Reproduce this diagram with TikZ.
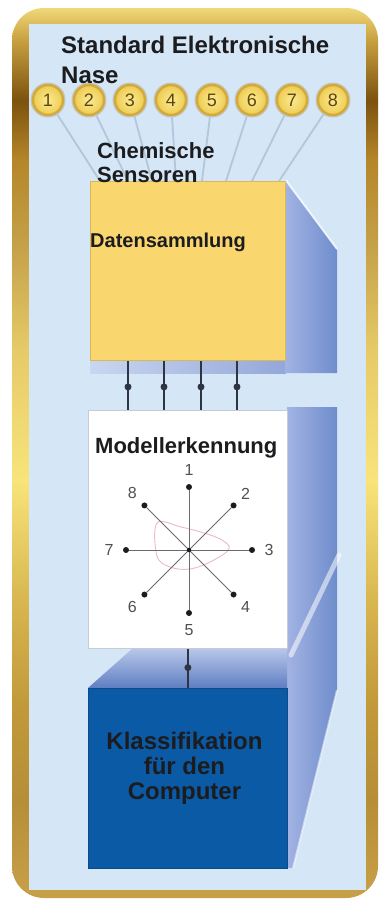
\documentclass[tikz,border=0pt]{standalone}
\usepackage{fontspec}
\setmainfont{Liberation Sans}
\usetikzlibrary{calc}

\definecolor{panelblue}{HTML}{D5E7F6}
\definecolor{ink}{HTML}{1C1C1E}
% gold frame stops, bottom to top
\definecolor{gA}{HTML}{C8A048}
\definecolor{gB}{HTML}{B68E38}
\definecolor{gC}{HTML}{C29A3A}
\definecolor{gD}{HTML}{D8B650}
\definecolor{gE}{HTML}{F8E47A}
\definecolor{gF}{HTML}{E6CA68}
\definecolor{gG}{HTML}{C6A24A}
\definecolor{gH}{HTML}{B48629}
\definecolor{gI}{HTML}{7C520E}
\definecolor{gJ}{HTML}{C8A040}
\definecolor{gK}{HTML}{F0D878}
\pgfdeclareverticalshading{goldframe}{100bp}{%
  color(0bp)=(gA); color(25bp)=(gA); color(30.5bp)=(gB); color(36bp)=(gC);
  color(41.7bp)=(gD); color(48.5bp)=(gE); color(55.8bp)=(gF); color(61.4bp)=(gG);
  color(66.5bp)=(gH); color(69.8bp)=(gI); color(73.2bp)=(gJ); color(75bp)=(gK);
  color(100bp)=(gK)}

\definecolor{sideL}{HTML}{A2B3E3}
\definecolor{sideR}{HTML}{6F8DCC}
\definecolor{bandL}{HTML}{C9D6EF}
\definecolor{bandR}{HTML}{93A8DA}
\definecolor{faceT}{HTML}{BAC8EA}
\definecolor{faceB}{HTML}{5E7EC2}
\definecolor{datafill}{HTML}{FAD66F}
\definecolor{dataedge}{HTML}{D9B85A}
\definecolor{klassfill}{HTML}{0A5AA6}
\definecolor{klassedge}{HTML}{0A4B8C}
\definecolor{modeledge}{HTML}{C5CCD6}
\definecolor{sensIn}{HTML}{FBEB92}
\definecolor{sensOut}{HTML}{EDCB52}
\definecolor{sensRing}{HTML}{D2AA3C}
\definecolor{sensNum}{HTML}{5E4510}
\definecolor{halo}{HTML}{C4C6BC}
\definecolor{fanline}{HTML}{B3C6DA}
\definecolor{connline}{HTML}{2E3442}
\definecolor{axisline}{HTML}{6A6A70}
\definecolor{radar}{HTML}{E9BCC4}
\definecolor{starlab}{HTML}{505054}

\begin{document}
\begin{tikzpicture}[x=1pt,y=-1pt,
  txt/.style={text=ink, inner sep=0pt, anchor=base west},
  big/.style={font=\fontsize{24pt}{28pt}\selectfont\bfseries},
  mid/.style={font=\fontsize{22pt}{26pt}\selectfont\bfseries},
  small/.style={font=\fontsize{20pt}{24pt}\selectfont\bfseries},
  sensor/.style={circle, minimum size=30pt, inner sep=0pt, shade,
    inner color=sensIn, outer color=sensOut, draw=sensRing, line width=2.4pt,
    text=sensNum, font=\fontsize{18pt}{18pt}\selectfont},
  blockbox/.style={anchor=north west, inner sep=0pt, line width=0.8pt},
  fan/.style={draw=fanline, line width=1.8pt},
  conn/.style={draw=connline, line width=1.5pt},
  dotmk/.style={circle, fill=connline, inner sep=0pt, minimum size=7pt},
  stdot/.style={circle, fill=ink, inner sep=0pt, minimum size=6pt},
  stlab/.style={text=starlab, inner sep=0pt, font=\fontsize{16pt}{16pt}\selectfont},
  staxis/.style={draw=axisline, line width=0.8pt},
]
\useasboundingbox (0,0) rectangle (381,900);
\fill[white] (0,0) rectangle (381,900);

% gold frame and inner panel
\shade[shading=goldframe, rounded corners=32pt] (12,8) rectangle (378,898);
\fill[panelblue] (29,24) rectangle (366,890);

% blue extrusion behind the blocks
\shade[left color=bandL, right color=bandR] (90,360) rectangle (286,373);
\shade[left color=sideL, right color=sideR] (285,181) -- (337,250) -- (337,373) -- (285,373) -- cycle;
\draw[white, opacity=0.6, line width=2pt] (286,180) -- (337,249);
\shade[left color=sideL, right color=sideR] (287,407) -- (337,407) -- (337,690) -- (293,868) -- (287,868) -- cycle;
\shade[top color=faceT, bottom color=faceB] (133,648) -- (287,648) -- (287,688) -- (88,688) -- cycle;
\draw[white, opacity=0.55, line width=5pt, line cap=round] (339,555) -- (291,655);
\draw[white, opacity=0.5, line width=2pt] (337,690) -- (293,868);

% blocks
\node[blockbox, fill=datafill, draw=dataedge, minimum width=195pt, minimum height=179pt] (data) at (90,181) {};
\node[blockbox, fill=white, draw=modeledge, minimum width=199pt, minimum height=238pt] (model) at (88,410) {};
\node[blockbox, fill=klassfill, draw=klassedge, minimum width=199pt, minimum height=180pt] (klass) at (88,688) {};

% chemical sensors
\foreach \k/\x/\t in {1/48/100, 2/89/128, 3/130/152, 4/171/176, 5/212/202, 6/252/226, 7/292/252, 8/333/279} {
  \fill[halo] (\x,100) circle (17.5pt);
  \node[sensor] (s\k) at (\x,100) {\k};
  \coordinate (f\k) at (\t,181);
}
\foreach \k in {1,...,8} { \path[fan] (s\k) -- (f\k); }

% texts
\node[txt, big] (ttl1) at (61,53) {Standard Elektronische};
\node[txt, big] (ttl2) at (61,83) {Nase};
\node[txt, mid] (chem1) at (97,158) {Chemische};
\node[txt, mid] (chem2) at (97,182) {Sensoren};
\node[txt, small] (datalab) at (90,247) {Datensammlung};
\node[txt, mid] (modellab) at (95,453) {Modellerkennung};
\node[txt, big, anchor=base] (kl1) at (184.5,749) {Klassifikation};
\node[txt, big, anchor=base] (kl2) at (184.5,774) {für den};
\node[txt, big, anchor=base] (kl3) at (184.5,799) {Computer};

% data flow between the blocks
\foreach \k/\x in {1/128, 2/164, 3/201, 4/237} {
  \coordinate (k\k) at (\x,0);
  \draw[conn] (data.south -| k\k) -- node[dotmk, pos=0.53] {} (model.north -| k\k);
}
\draw[conn] (model.south) -- node[dotmk, pos=0.48] {} (klass.north);

% radar chart of the eight sensor channels
\coordinate (c) at (189,550);
\draw[radar, line width=0.9pt] plot[smooth cycle, tension=0.6] coordinates
  {(157,523) (181,527) (204,533) (222,540) (229,549) (212,561) (190,569) (170,567) (157,556)};
\foreach \k in {1,...,8} {
  \node[stdot] (p\k) at ($(c)+({45*(\k-1)-90}:63)$) {};
  \node[stlab] (l\k) at ($(c)+({45*(\k-1)-90}:80)$) {\k};
}
\draw[staxis] (p1) -- (p5);
\draw[staxis] (p2) -- (p6);
\draw[staxis] (p3) -- (p7);
\draw[staxis] (p4) -- (p8);
\node[circle, fill=ink, inner sep=0pt, minimum size=4.5pt] (hub) at (c) {};
\end{tikzpicture}
\end{document}
